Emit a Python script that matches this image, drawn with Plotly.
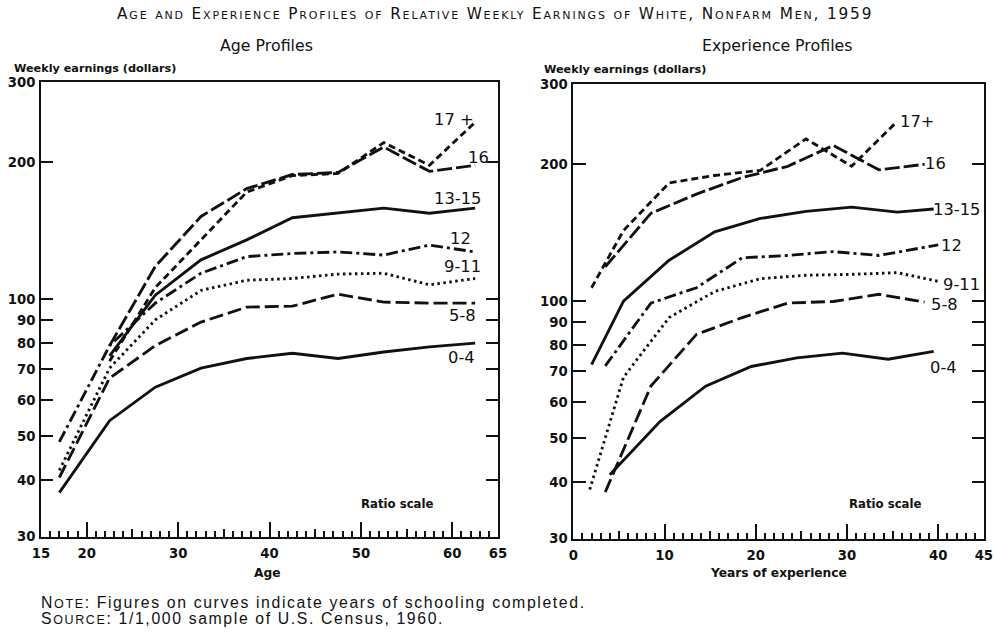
import math
import plotly.graph_objects as go

W, H = 994, 632
# the browser shows the figure inside an 8px body margin and the shot is scaled
# back to W x H, so layout positions are given in final-screen pixels and mapped
BODY = 8
SX, SY = (W + 2 * BODY) / W, (H + 2 * BODY) / H
F = 1.02  # font/line scale that offsets the shrink

# ---------------- Age profiles (weekly earnings, dollars) ----------------
ages = [17, 22.5, 27.5, 32.5, 37.5, 42.5, 47.5, 52.5, 57.5, 62.5]
ages_from_22 = [22.5, 27.5, 32.5, 37.5, 42.5, 47.5, 52.5, 57.5, 62.5]

age_earn_0_4 = [37.5, 54, 64, 70.5, 74, 76, 74, 76.5, 78.5, 80]
age_earn_5_8 = [40.5, 67, 79, 89, 96, 96.5, 102.5, 98.5, 98, 98]
age_earn_9_11 = [42, 70.5, 90, 104.5, 110, 111, 113.5, 114, 107.5, 111]
age_earn_12 = [48.5, 79, 98, 114, 124, 126, 127, 125, 131.5, 127]
age_earn_13_15 = [75, 102, 122, 135, 151, 154.5, 158.5, 154.5, 158.5]
age_earn_16 = [79, 118, 152, 175, 188, 190, 216, 191, 197]
age_earn_17p = [73, 106, 135, 172, 187, 189, 221, 197, 245]

# ---------------- Experience profiles (weekly earnings, dollars) ----------------
exp_0_4 = [4, 9.5, 14.5, 19.5, 24.5, 29.5, 34.5, 39.5]
exp_earn_0_4 = [41.5, 54.3, 65, 71.8, 75, 76.8, 74.5, 77.5]
exp_5_8 = [3.5, 8.5, 13.5, 18.5, 23.5, 28.5, 33.5, 38.5]
exp_earn_5_8 = [38, 65, 84.5, 92, 99, 99.8, 103.5, 99.5]
exp_9_11 = [1.8, 5.5, 10.5, 15.5, 20.5, 25.5, 30.5, 35.5, 40]
exp_earn_9_11 = [38.5, 68, 92, 105, 112, 114, 114.5, 115.5, 110.5]
exp_12 = [3.5, 8.5, 13.5, 18.5, 23.5, 28.5, 33.5, 40]
exp_earn_12 = [72, 99, 107, 124.5, 126, 128.5, 126, 133]
exp_13_15 = [2, 5.5, 10.5, 15.5, 20.5, 25.5, 30.5, 35.5, 39.5]
exp_earn_13_15 = [72.5, 100, 123, 142, 152, 157.5, 161, 157, 159.5]
exp_16 = [3.5, 8.5, 13.5, 18.5, 23.5, 28.5, 33.5, 38.5]
exp_earn_16 = [119, 156, 172, 187, 198, 220, 194.5, 200]
exp_17p = [2, 5.5, 10.5, 15.5, 20.5, 25.5, 30.5, 35.5]
exp_earn_17p = [107, 143, 182, 189, 194, 227.5, 198, 248.5]

schooling = ["0-4", "5-8", "9-11", "12", "13-15", "16", "17+"]
y_ticks = [30, 40, 50, 60, 70, 80, 90, 100, 200, 300]

# line dash pattern per schooling level
dash = {
    "0-4": "solid",
    "5-8": "14px,5px",
    "9-11": "2.5px,3.5px",
    "12": "12px,4px,3px,4px",
    "13-15": "solid",
    "16": "15px,4px",
    "17+": "7px,4px",
}

age_series = [
    ("0-4", ages, age_earn_0_4),
    ("5-8", ages, age_earn_5_8),
    ("9-11", ages, age_earn_9_11),
    ("12", ages, age_earn_12),
    ("13-15", ages_from_22, age_earn_13_15),
    ("16", ages_from_22, age_earn_16),
    ("17+", ages_from_22, age_earn_17p),
]
exp_series = [
    ("0-4", exp_0_4, exp_earn_0_4),
    ("5-8", exp_5_8, exp_earn_5_8),
    ("9-11", exp_9_11, exp_earn_9_11),
    ("12", exp_12, exp_earn_12),
    ("13-15", exp_13_15, exp_earn_13_15),
    ("16", exp_16, exp_earn_16),
    ("17+", exp_17p, exp_earn_17p),
]

INK = "#111111"
FONT = "DejaVu Sans"
LW = 2.8 * F

fig = go.Figure()

for name, xs, ys in age_series:
    fig.add_trace(go.Scatter(
        x=xs, y=ys, mode="lines", name=name, xaxis="x", yaxis="y",
        line=dict(color=INK, width=LW, dash=dash[name]),
        showlegend=False, hoverinfo="skip"))

for name, xs, ys in exp_series:
    fig.add_trace(go.Scatter(
        x=xs, y=ys, mode="lines", name=name, xaxis="x2", yaxis="y2",
        line=dict(color=INK, width=LW, dash=dash[name]),
        showlegend=False, hoverinfo="skip"))

# empty traces that carry the overlay axes used for the long decade ticks
fig.add_trace(go.Scatter(x=[], y=[], xaxis="x3", yaxis="y", showlegend=False))
fig.add_trace(go.Scatter(x=[], y=[], xaxis="x4", yaxis="y2", showlegend=False))


def px_x(p):
    """screen column -> paper fraction"""
    return (p * SX - BODY) / W


def px_y(p):
    """screen row -> paper fraction"""
    return 1 - (p * SY - BODY) / H


left_dom = [px_x(40), px_x(498)]
right_dom = [px_x(573.5), px_x(985)]
left_ydom = [px_y(537), px_y(83)]
right_ydom = [px_y(539), px_y(85)]

age_tickvals = list(range(15, 66, 5))
age_ticktext = [str(v) if v in (15, 20, 30, 40, 50, 60, 65) else "" for v in age_tickvals]
exp_tickvals = list(range(0, 46, 5))
exp_ticktext = [str(v) if v in (0, 10, 20, 30, 40, 45) else "" for v in exp_tickvals]

xcommon = dict(
    showline=True, linewidth=2 * F, linecolor=INK, mirror=True,
    ticks="inside", ticklen=8 * F, tickwidth=1.6 * F, tickcolor=INK,
    tickmode="array", showgrid=False, zeroline=False,
    tickfont=dict(family=FONT, size=13 * F, color=INK, weight="bold"),
    ticklabelstandoff=3,
    minor=dict(ticks="inside", ticklen=5.5 * F, tickwidth=1.5 * F, tickcolor=INK,
               tick0=0, dtick=1, showgrid=False),
)
ycommon = dict(
    type="log", range=[math.log10(30), math.log10(300)],
    showline=True, linewidth=2 * F, linecolor=INK, mirror="ticks",
    ticks="inside", ticklen=12 * F, tickwidth=2 * F, tickcolor=INK,
    tickmode="array", tickvals=y_ticks, ticktext=[str(v) for v in y_ticks],
    showgrid=False, zeroline=False,
    tickfont=dict(family=FONT, size=13 * F, color=INK, weight="bold"),
    ticklabelstandoff=1,
)
overlay = dict(
    showline=False, ticks="inside", ticklen=14 * F, tickwidth=1.6 * F, tickcolor=INK,
    tickmode="array", showticklabels=False, showgrid=False, zeroline=False,
)

fig.update_layout(
    width=W, height=H,
    margin=dict(l=0, r=0, t=0, b=0),
    paper_bgcolor="white", plot_bgcolor="white",
    xaxis=dict(xcommon, domain=left_dom, anchor="y", range=[15, 65],
               tickvals=age_tickvals, ticktext=age_ticktext),
    yaxis=dict(ycommon, domain=left_ydom, anchor="x"),
    xaxis2=dict(xcommon, domain=right_dom, anchor="y2", range=[0, 45],
                tickvals=exp_tickvals, ticktext=exp_ticktext),
    yaxis2=dict(ycommon, domain=right_ydom, anchor="x2"),
    xaxis3=dict(overlay, overlaying="x", anchor="y", range=[15, 65],
                tickvals=[20, 30, 40, 50, 60]),
    xaxis4=dict(overlay, overlaying="x2", anchor="y2", range=[0, 45],
                tickvals=[10, 20, 30, 40]),
)

ann = []


def text(x, y, s, size, family=FONT, xanchor="center", variant="normal", weight="normal"):
    ann.append(dict(
        x=px_x(x), y=px_y(y), xref="paper", yref="paper", text=s,
        showarrow=False, xanchor=xanchor, yanchor="middle",
        font=dict(family=family, size=size * F, color=INK, variant=variant, weight=weight)))


def spaced(s, px):
    return f"<span style='letter-spacing:{px * F:.2f}px'>{s}</span>"


# headings
text(495, 15, spaced("Age and Experience Profiles of Relative Weekly Earnings of White, Nonfarm Men, 1959", 1.8),
     15, variant="small-caps")
text(266, 46, "Age Profiles", 15.5)
text(778, 46, "Experience Profiles", 15.5)
text(11, 69, "Weekly earnings (dollars)", 11, xanchor="left", weight="bold")
text(542, 70, "Weekly earnings (dollars)", 11, xanchor="left", weight="bold")
text(397, 504, "Ratio scale", 11.5, weight="bold")
text(886, 504, "Ratio scale", 11.5, weight="bold")
text(267, 573, "Age", 12, weight="bold")
text(779, 573, "Years of experience", 12, weight="bold")

# schooling labels beside the curves
age_label_pos = {"17+": (454, 120), "16": (478, 158), "13-15": (457, 199), "12": (460, 239),
                 "9-11": (462, 267), "5-8": (462, 316), "0-4": (461, 358)}
exp_label_pos = {"17+": (918, 122), "16": (937, 164), "13-15": (958, 210), "12": (953, 246),
                 "9-11": (963, 285), "5-8": (946, 305), "0-4": (945, 368)}
for name in schooling:
    text(*age_label_pos[name], name.replace("+", " +"), 16)
    text(*exp_label_pos[name], name, 16)

# footnotes
note = "N<span style='font-size:12.5px'>OTE</span>: Figures on curves indicate years of schooling completed."
source = "S<span style='font-size:12.5px'>OURCE</span>: 1/1,000 sample of U.S. Census, 1960."
for y, s in ((603, note), (618.5, source)):
    text(38, y, spaced(s, 1.6), 15.5, family="Liberation Sans", xanchor="left")

fig.update_layout(annotations=ann)

fig.write_html("out.html")
